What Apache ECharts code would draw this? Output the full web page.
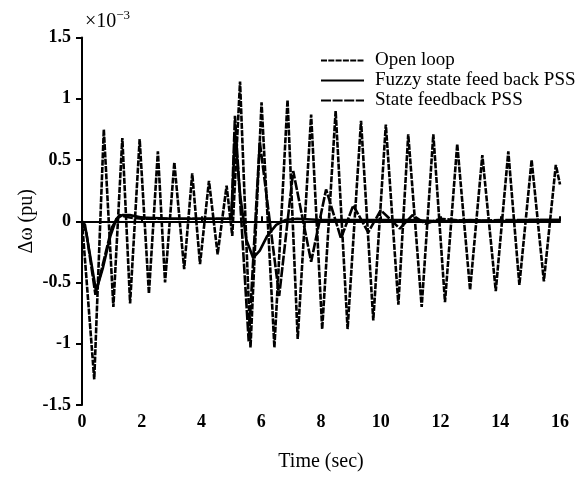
<!DOCTYPE html>
<html>
<head>
    <meta charset="UTF-8">
    <script src="https://cdn.jsdelivr.net/npm/echarts@6.0.0/dist/echarts.min.js"></script>
    <style>
        html, body { margin: 0; padding: 0; background: #fff; }
    </style>
</head>
<body>
<div id="main" style="width: 583px; height: 477px;"></div>

<script type="text/javascript">
    // values in units of 1e-3 pu
    var openT = [0, 0.41, 0.73, 1.05, 1.35, 1.61, 1.93, 2.24, 2.54, 2.78, 3.09, 3.42, 3.69, 3.95, 4.25, 4.54, 4.84, 5.03,
        5.29, 5.64, 6.01, 6.44, 6.88, 7.22, 7.67, 8.04, 8.49, 8.89, 9.34, 9.75, 10.17, 10.59, 10.92, 11.37, 11.76,
        12.15, 12.56, 12.99, 13.4, 13.85, 14.27, 14.64, 15.05, 15.46, 15.86, 16.0];
    var openV = [0, -1.29, 0.75, -0.70, 0.68, -0.67, 0.67, -0.59, 0.57, -0.50, 0.48, -0.39, 0.39, -0.35, 0.33, -0.27, 0.29, -0.12,
        1.14, -1.03, 0.97, -1.03, 0.99, -0.96, 0.87, -0.88, 0.90, -0.88, 0.82, -0.81, 0.79, -0.68, 0.71, -0.70, 0.71,
        -0.66, 0.63, -0.56, 0.54, -0.57, 0.57, -0.52, 0.50, -0.49, 0.46, 0.30];

    var fuzzyT = [0, 0.1, 0.25, 0.47, 0.7, 0.95, 1.15, 1.35, 1.6, 2.0, 3.0, 4.0, 5.0, 5.05, 5.12, 5.3, 5.5, 5.73, 5.95,
        6.2, 6.5, 6.8, 7.2, 8.0, 9.0, 10.0, 11.0, 12.0, 13.0, 14.0, 15.0, 16.0];
    var fuzzyV = [0, -0.03, -0.25, -0.57, -0.38, -0.12, 0.02, 0.05, 0.05, 0.03, 0.02, 0.02, 0.02, 0.3, 0.72, 0.2, -0.15, -0.3, -0.24,
        -0.12, -0.03, 0.01, 0.02, 0.01, 0.01, 0.01, 0.01, 0.0, 0.01, 0.0, 0.01, 0.01];

    var stateT = [0, 0.15, 0.45, 0.75, 1.0, 1.25, 1.6, 2.0, 3.0, 5.0, 5.12, 5.58, 5.95, 6.6, 7.07, 7.67, 8.17, 8.67, 9.08,
        9.58, 10.0, 10.64, 11.06, 11.5, 12.0, 13.0, 14.0, 16.0];
    var stateV = [0, -0.1, -0.6, -0.3, -0.05, 0.05, 0.03, 0.02, 0.02, 0.02, 0.86, -0.98, 0.65, -0.61, 0.41, -0.33, 0.26, -0.14, 0.13,
        -0.09, 0.09, -0.06, 0.05, -0.02, 0.02, 0.0, 0.01, 0.01];

    var seriesNames = ['Open loop', 'Fuzzy state feed back PSS', 'State feedback PSS'];

    function pairs(t, v) {
        var out = [];
        for (var i = 0; i < t.length; i++) {
            out.push([t[i], v[i]]);
        }
        return out;
    }

    var font = '"Liberation Serif", "Times New Roman", serif';
    var myChart = echarts.init(document.getElementById('main'), null, {renderer: 'canvas'});
    var option = {
        animation: false,
        backgroundColor: '#fff',
        color: ['#000', '#000', '#000'],
        title: {
            text: '×10{sup|−3}',
            left: 80,
            top: 4,
            textStyle: {
                fontFamily: font,
                fontSize: 20,
                fontWeight: 'normal',
                color: '#000',
                rich: {
                    sup: {fontFamily: font, fontSize: 13, color: '#000', verticalAlign: 'top', padding: [0, 0, 12, 0]}
                }
            }
        },
        legend: {
            orient: 'vertical',
            left: 320,
            top: 51,
            padding: 0,
            itemWidth: 43,
            itemHeight: 14,
            itemGap: 1,
            data: seriesNames,
            itemStyle: {opacity: 0},
            textStyle: {
                fontFamily: font,
                fontSize: 19,
                color: '#000',
                padding: [0, 0, 0, 6]
            }
        },
        grid: {
            left: 82,
            right: 23,
            top: 37.5,
            bottom: 66
        },
        xAxis: {
            type: 'value',
            min: 0,
            max: 16,
            interval: 2,
            name: 'Time (sec)',
            nameLocation: 'middle',
            nameGap: 47,
            nameTextStyle: {fontFamily: font, fontSize: 20, color: '#000'},
            axisLine: {lineStyle: {color: '#000', width: 2}},
            axisTick: {inside: true, length: 5, lineStyle: {color: '#000', width: 2}},
            axisLabel: {fontFamily: font, fontSize: 18, fontWeight: 'bold', color: '#000', margin: 8},
            splitLine: {show: false}
        },
        yAxis: {
            type: 'value',
            min: -1.5,
            max: 1.5,
            interval: 0.5,
            name: 'Δω (pu)',
            nameLocation: 'middle',
            nameGap: 45,
            nameMoveOverlap: false,
            nameRotate: 90,
            nameTextStyle: {fontFamily: font, fontSize: 20, color: '#000'},
            axisLine: {onZero: false, lineStyle: {color: '#000', width: 2}},
            axisTick: {length: 6, lineStyle: {color: '#000', width: 2}},
            axisLabel: {fontFamily: font, fontSize: 18, fontWeight: 'bold', color: '#000', margin: 11},
            splitLine: {show: false}
        },
        series: [
            {
                name: seriesNames[0],
                type: 'line',
                symbol: 'none',
                data: pairs(openT, openV),
                lineStyle: {color: '#000', width: 2.6, type: [6, 1.3]}
            },
            {
                name: seriesNames[1],
                type: 'line',
                symbol: 'none',
                data: pairs(fuzzyT, fuzzyV),
                lineStyle: {color: '#000', width: 2.6, type: 'solid'}
            },
            {
                name: seriesNames[2],
                type: 'line',
                symbol: 'none',
                data: pairs(stateT, stateV),
                lineStyle: {color: '#000', width: 2.6, type: [10, 1.6]}
            }
        ]
    };
    myChart.setOption(option);
</script>
</body>
</html>
